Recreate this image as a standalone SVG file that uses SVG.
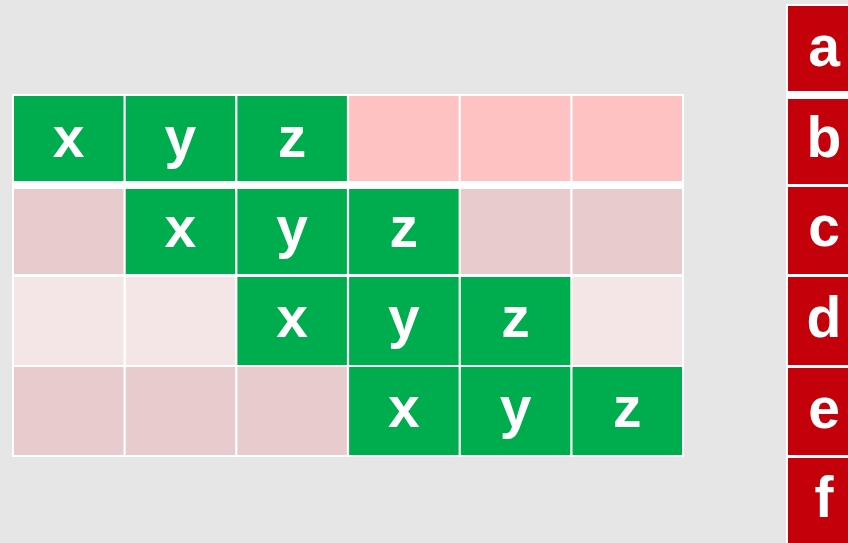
<svg xmlns="http://www.w3.org/2000/svg" width="848" height="543" viewBox="0 0 848 543">
<style>
.g{fill:#00ad4e}
.p1{fill:#ffc2c3}
.p2{fill:#e8cbcc}
.p3{fill:#f4e6e6}
.r{fill:#c4000b}
text{font-family:"Liberation Sans",Arial,sans-serif;font-weight:bold;font-size:57px;fill:#ffffff;text-anchor:middle}
</style>
<rect width="848" height="543" fill="#e6e6e6"/>
<g id="grid">
<rect x="12" y="94" width="672" height="363" fill="#ffffff"/>
<g id="row1">
<rect class="g" x="14" y="96" width="109.5" height="85"/>
<rect class="g" x="125.7" y="96" width="109.5" height="85"/>
<rect class="g" x="237.4" y="96" width="109.5" height="85"/>
<rect class="p1" x="349.1" y="96" width="109.5" height="85"/>
<rect class="p1" x="460.8" y="96" width="109.5" height="85"/>
<rect class="p1" x="572.5" y="96" width="109.5" height="85"/>
<text x="68.7" y="157">x</text>
<text x="180.4" y="157">y</text>
<text x="292.1" y="157">z</text>
</g>
<g id="row2">
<rect class="p2" x="14" y="189" width="109.5" height="85"/>
<rect class="g" x="125.7" y="189" width="109.5" height="85"/>
<rect class="g" x="237.4" y="189" width="109.5" height="85"/>
<rect class="g" x="349.1" y="189" width="109.5" height="85"/>
<rect class="p2" x="460.8" y="189" width="109.5" height="85"/>
<rect class="p2" x="572.5" y="189" width="109.5" height="85"/>
<text x="180.4" y="247">x</text>
<text x="292.1" y="247">y</text>
<text x="403.8" y="247">z</text>
</g>
<g id="row3">
<rect class="p3" x="14" y="277" width="109.5" height="88"/>
<rect class="p3" x="125.7" y="277" width="109.5" height="88"/>
<rect class="g" x="237.4" y="277" width="109.5" height="88"/>
<rect class="g" x="349.1" y="277" width="109.5" height="88"/>
<rect class="g" x="460.8" y="277" width="109.5" height="88"/>
<rect class="p3" x="572.5" y="277" width="109.5" height="88"/>
<text x="292.1" y="337">x</text>
<text x="403.8" y="337">y</text>
<text x="515.5" y="337">z</text>
</g>
<g id="row4">
<rect class="p2" x="14" y="367" width="109.5" height="88"/>
<rect class="p2" x="125.7" y="367" width="109.5" height="88"/>
<rect class="p2" x="237.4" y="367" width="109.5" height="88"/>
<rect class="g" x="349.1" y="367" width="109.5" height="88"/>
<rect class="g" x="460.8" y="367" width="109.5" height="88"/>
<rect class="g" x="572.5" y="367" width="109.5" height="88"/>
<text x="403.8" y="427">x</text>
<text x="515.5" y="427">y</text>
<text x="627.2" y="427">z</text>
</g>
</g>
<g id="legend">
<rect x="786" y="4" width="62" height="539" fill="#ffffff"/>
<g id="a"><rect class="r" x="788" y="6" width="60" height="85"/><text x="824" y="66">a</text></g>
<g id="b"><rect class="r" x="788" y="99" width="60" height="85"/><text x="824" y="157">b</text></g>
<g id="c"><rect class="r" x="788" y="187" width="60" height="87"/><text x="824" y="246">c</text></g>
<g id="d"><rect class="r" x="788" y="277" width="60" height="88"/><text x="824" y="337">d</text></g>
<g id="e"><rect class="r" x="788" y="368" width="60" height="87"/><text x="824" y="428">e</text></g>
<g id="f"><rect class="r" x="788" y="458" width="60" height="85"/><text x="824" y="517">f</text></g>
</g>
</svg>
